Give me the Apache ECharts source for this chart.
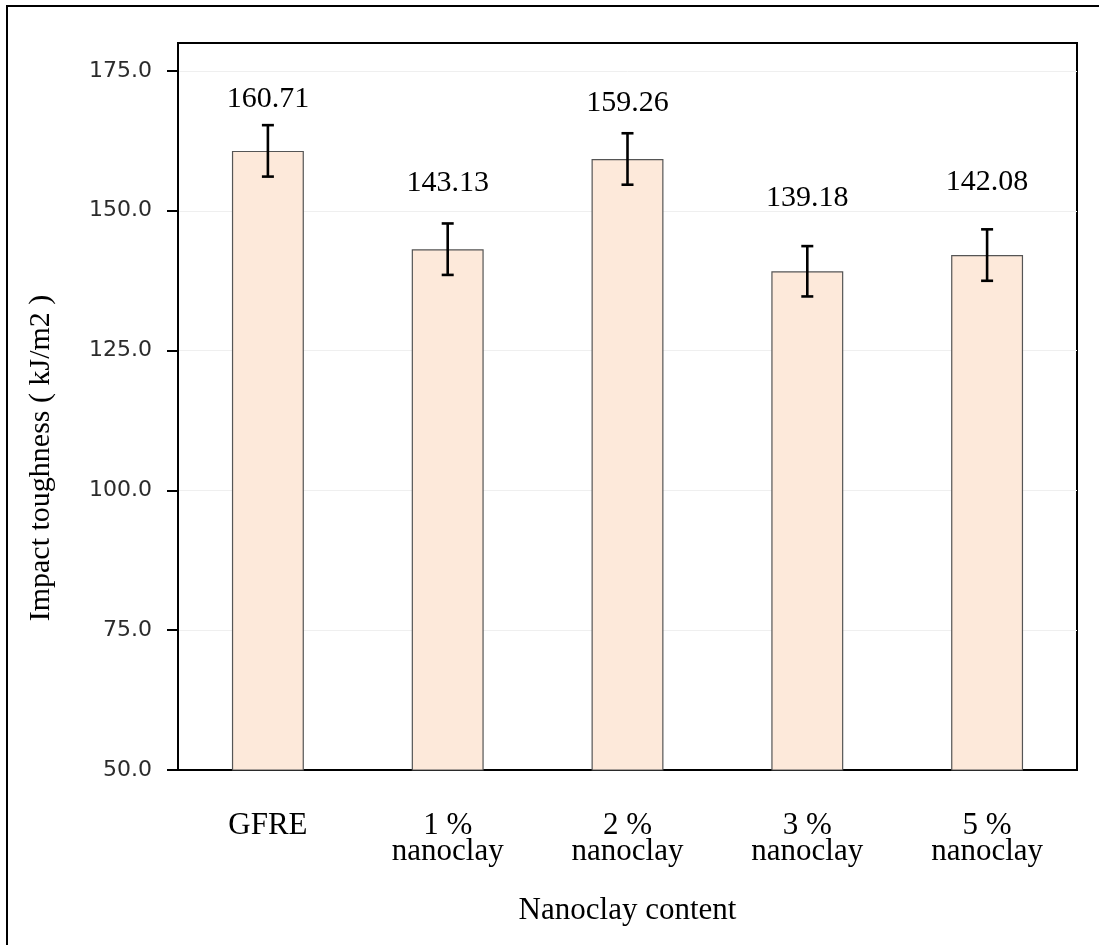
<!DOCTYPE html>
<html>
<head>
<meta charset="utf-8">
<script src="https://cdn.jsdelivr.net/npm/echarts@6/dist/echarts.min.js"></script>
<style>
html,body{margin:0;padding:0;background:#fff;}
#chart{width:1099px;height:945px;}
</style>
</head>
<body>
<div id="chart"></div>
<script>
// ---- data ----
const categories = ['GFRE', '1 %\nnanoclay', '2 %\nnanoclay', '3 %\nnanoclay', '5 %\nnanoclay'];
const values = [160.71, 143.13, 159.26, 139.18, 142.08];
const errors = [4.6, 4.6, 4.6, 4.5, 4.6];
const yTicks = [50, 75, 100, 125, 150, 175];

// ---- style (label distance above bar top, px) ----
const labelGap = [37, 51, 41, 58, 58];

const chart = echarts.init(document.getElementById('chart'), null, {renderer: 'canvas'});
const serif = '"Liberation Serif", "Times New Roman", serif';

const barData = values.map((v, i) => ({
  value: v,
  label: {distance: labelGap[i]}
}));
const errData = values.map((v, i) => [i, v - errors[i], v + errors[i]]);

const option = {
  animation: false,
  backgroundColor: '#fff',
  grid: {
    left: 178, right: 22, top: 43, bottom: 175,
    show: true, borderColor: '#000', borderWidth: 2, backgroundColor: 'transparent'
  },
  xAxis: {
    type: 'category',
    data: categories,
    name: 'Nanoclay content',
    nameLocation: 'middle',
    nameGap: 125,
    nameTextStyle: {fontFamily: serif, fontSize: 31, color: '#000'},
    axisLine: {lineStyle: {color: '#000', width: 2}},
    axisTick: {alignWithLabel: true, length: 8, lineStyle: {color: '#000', width: 2}},
    axisLabel: {fontFamily: serif, fontSize: 31, color: '#000', margin: 43, lineHeight: 26},
    splitLine: {show: false}
  },
  yAxis: {
    type: 'value',
    min: 50, max: 180, interval: 25,
    axisLine: {show: true, lineStyle: {color: '#000', width: 2}},
    axisTick: {show: true, length: 11, customValues: yTicks, lineStyle: {color: '#000', width: 2}},
    axisLabel: {
      customValues: yTicks,
      fontFamily: '"DejaVu Sans", Verdana, sans-serif', fontSize: 22, color: '#2b2b2b', margin: 26,
      formatter: v => v.toFixed(1)
    },
    splitLine: {show: true, lineStyle: {color: '#efefef', width: 1}}
  },
  series: [
    {
      type: 'bar',
      data: barData,
      barWidth: '40%',
      itemStyle: {color: '#FDE9DA', borderColor: '#555', borderWidth: 1.2},
      label: {
        show: true, position: 'top',
        fontFamily: serif, fontSize: 30, color: '#000',
        formatter: p => p.value.toFixed(2)
      },
      z: 2
    },
    {
      type: 'custom',
      data: errData,
      z: 5,
      renderItem: function (params, api) {
        const x = api.value(0);
        const lo = api.coord([x, api.value(1)]);
        const hi = api.coord([x, api.value(2)]);
        const cap = 6;
        const st = {stroke: '#000', lineWidth: 2.6};
        return {
          type: 'group',
          children: [
            {type: 'line', shape: {x1: lo[0], y1: lo[1], x2: hi[0], y2: hi[1]}, style: st},
            {type: 'line', shape: {x1: lo[0] - cap, y1: lo[1], x2: lo[0] + cap, y2: lo[1]}, style: st},
            {type: 'line', shape: {x1: hi[0] - cap, y1: hi[1], x2: hi[0] + cap, y2: hi[1]}, style: st}
          ]
        };
      }
    }
  ],
  graphic: [
    {
      type: 'rect', silent: true, z: 100,
      shape: {x: 7, y: 6, width: 1300, height: 1200},
      style: {fill: 'none', stroke: '#000', lineWidth: 2}
    },
    {
      type: 'text', x: 41, y: 458, rotation: Math.PI / 2, z: 100,
      style: {
        text: 'Impact toughness ( kJ/m2 )',
        font: '30px ' + serif, fill: '#000', align: 'center', verticalAlign: 'middle'
      }
    }
  ]
};
chart.setOption(option);
</script>
</body>
</html>
